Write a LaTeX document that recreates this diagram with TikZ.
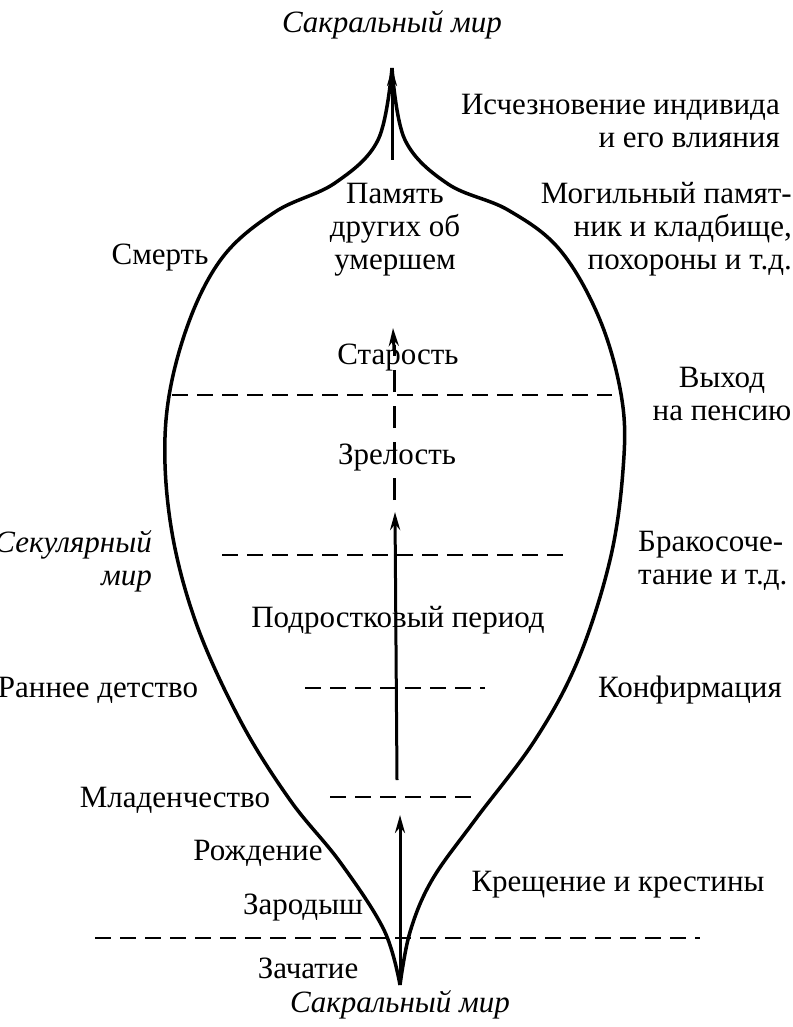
\documentclass[tikz,border=0pt]{standalone}
\usepackage{fontspec}
\setmainfont{Liberation Serif}
\usetikzlibrary{arrows.meta}
\begin{document}
\begin{tikzpicture}[x=1pt,y=-1pt,
 lab/.style={font=\fontsize{31}{33}\selectfont,inner sep=0pt,align=center},
 itl/.style={lab,font=\fontsize{31}{33}\selectfont\itshape},
 dsh/.style={line width=2.4pt,dash pattern=on 16pt off 9pt},
 ax/.style={line width=3pt,-{Stealth[length=18pt,width=10pt]}}]
\useasboundingbox (0,0) rectangle (792,1027);
\draw[line width=3.5pt,line join=round] plot[smooth,tension=0.6] coordinates{(392,68)(378,140)(335,183)(275,212)(222,258)(186,330)(166,420)(170,520)(195,620)(240,720)(290,800)(340,862)(384,930)(400,985)};
\draw[line width=3.5pt,line join=round] plot[smooth,tension=0.6] coordinates{(392,68)(405,140)(448,184)(508,210)(560,250)(600,320)(622,400)(623,470)(610,560)(578,660)(535,740)(475,820)(432,880)(410,932)(400,985)};
\coordinate (b0) at (400,980); \coordinate (b1) at (400,815);
\coordinate (c0) at (397,780); \coordinate (c1) at (395,512);
\coordinate (d0) at (394,500); \coordinate (d1) at (393,328);
\coordinate (e0) at (392,160); \coordinate (e1) at (392,68);
\draw[ax] (b0)--(b1);
\draw[ax] (c0)--(c1);
\draw[line width=3pt,dash pattern=on 22pt off 14pt] (d0)--(394,345);
\draw[ax] (394,350)--(d1);
\draw[ax] (e0)--(e1);
\foreach \y/\a/\b in {938/95/700,797/330/472,688/305/485,555/222/568,395/172/612}
 \draw[dsh] (\a,\y)--(\b,\y);
\node[itl] (s1) at (392,25) {Сакральный мир};
\node[itl] (s2) at (400,1005) {Сакральный мир};
\node[itl,align=right,anchor=east] (sec) at (152,561) {Секулярный\\мир};
\node[lab,align=right,anchor=east] (t1) at (780,121) {Исчезновение индивида\\и его влияния};
\node[lab] (t2) at (395,230) {Память\\других об\\умершем};
\node[lab,align=right,anchor=east] (t3) at (792,229) {Могильный памят-\\ник и кладбище,\\похороны и т.д.};
\node[lab] (t4) at (160,258) {Смерть};
\node[lab] (t5) at (398,358) {Старость};
\node[lab] (t6) at (722,394) {Выход\\на пенсию};
\node[lab,align=left,anchor=west] (t8) at (638,561) {Бракосоче-\\тание и т.д.};
\node[lab] (t7) at (397,458) {Зрелость};
\node[lab] (t9) at (398,620) {Подростковый период};
\node[lab] (t10) at (98,690) {Раннее детство};
\node[lab] (t11) at (690,690) {Конфирмация};
\node[lab] (t12) at (175,800) {Младенчество};
\node[lab] (t13) at (258,853) {Рождение};
\node[lab] (t14) at (618,885) {Крещение и крестины};
\node[lab] (t15) at (303,908) {Зародыш};
\node[lab] (t16) at (308,968) {Зачатие};
\end{tikzpicture}
\end{document}
